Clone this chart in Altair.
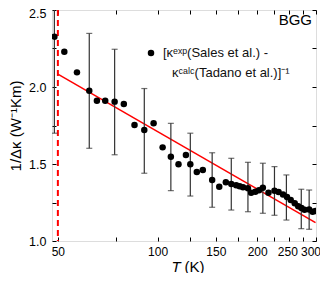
import altair as alt
import pandas as pd

# ---- data ----
T_vals = [48.8, 52.3, 57.1, 62.2, 65.6, 69.5, 74.2, 79.1, 85.2, 91.2, 97.3, 103.6,
          109.7, 115.7, 121.8, 125.6, 131.4, 137.0, 146.2, 153.6, 160.8, 167.0,
          172.8, 177.0, 181.2, 187.5, 191.7, 197.4, 202.5, 208.0, 216.3, 225.5,
          232.0, 239.3, 246.0, 252.5, 259.6, 266.0, 272.0, 278.0, 287.0, 294.0, 300.0]
y_vals = [2.327, 2.229, 2.095, 1.976, 1.911, 1.911, 1.905, 1.890, 1.753, 1.721, 1.764, 1.608,
          1.547, 1.498, 1.558, 1.498, 1.448, 1.461, 1.396, 1.353, 1.381, 1.370,
          1.362, 1.355, 1.349, 1.342, 1.314, 1.320, 1.330, 1.346, 1.314, 1.327,
          1.318, 1.302, 1.286, 1.266, 1.245, 1.225, 1.215, 1.203, 1.205, 1.190, 1.195]

err_T = [48.8, 62.2, 74.2, 91.2, 109.7, 125.6, 146.2, 167.0, 187.5, 208.0, 225.5, 245.0, 271.7, 287.0]
err_lo = [1.70, 1.602, 1.56, 1.44, 1.327, 1.292, 1.219, 1.201, 1.19, 1.18, 1.167, 1.136, 1.08, 1.076]
err_hi = [2.96, 2.348, 2.245, 1.99, 1.764, 1.70, 1.573, 1.537, 1.511, 1.505, 1.483, 1.429, 1.336, 1.331]

fit_T = [50, 300]
fit_y = [2.084, 1.119]
cutoff_T = [50]

x_ticks_major = [50, 100, 150, 200, 250, 300]
x_ticks_all = [50, 75, 100, 125, 150, 175, 200, 225, 250, 275, 300]
y_ticks_major = [1.0, 1.5, 2.0, 2.5]
y_ticks_all = [1.0, 1.25, 1.5, 1.75, 2.0, 2.25, 2.5]

legend_line1 = "[κᵉˣᵖ(Sales et al.) -"
legend_line2 = "κᶜᵃˡᶜ(Tadano et al.)]⁻¹"
sample_label = "BGG"
x_title_sym = "T"
x_title_unit = "(K)"
y_title = "1/Δκ (W⁻¹Km)"

# ---- chart ----
W, H = 264, 231
FONT = "Liberation Sans"

pts = pd.DataFrame({"T": T_vals, "y": y_vals})
err = pd.DataFrame({"T": err_T, "lo": err_lo, "hi": err_hi})
fit = pd.DataFrame({"T": fit_T, "y": fit_y})
cut = pd.DataFrame({"T": cutoff_T})

xscale = alt.Scale(type="log", domain=[48, 301], nice=False)
yscale = alt.Scale(domain=[1.0, 2.5], nice=False, zero=False)

ax_x_main = alt.Axis(orient="bottom", values=x_ticks_major, format="d", ticks=False, tickSize=0,
                     domain=False, grid=False, labelFont=FONT, labelFontSize=12, labelColor="black",
                     labelPadding=5, labelFlush=False, labelOverlap=False,
                     labelOffset={"condition": [{"test": "datum.value >= 300", "value": -5},
                                                {"test": "datum.value >= 250", "value": -2}],
                                  "value": 0},
                     title=x_title_unit, titleFont=FONT, titleFontSize=15, titleFontWeight="normal",
                     titleColor="black", titleX=132, titleY=30, titleAlign="left",
                     titleBaseline="alphabetic")
ax_x_in_bottom = alt.Axis(orient="top", offset=-H, values=x_ticks_all, labels=False, ticks=True,
                          tickSize=4, tickColor="black", tickWidth=1, domain=False, grid=False,
                          title=x_title_sym, titleFont=FONT, titleFontSize=15, titleFontStyle="italic",
                          titleFontWeight="normal", titleColor="black", titleX=119, titleY=30,
                          titleAlign="left", titleBaseline="alphabetic")
ax_x_in_top = alt.Axis(orient="bottom", offset=-H, values=x_ticks_all, labels=False, ticks=True,
                       tickSize=4, tickColor="black", tickWidth=1, domain=False, grid=False, title="")

ax_y_main = alt.Axis(orient="left", values=y_ticks_major, format=".1f", ticks=False, tickSize=0,
                     domain=False, grid=False, labelFont=FONT, labelFontSize=12.5, labelColor="black",
                     labelPadding=6, labelFlush=False, labelOverlap=False,
                     labelOffset={"condition": {"test": "datum.value >= 2.5", "value": 3}, "value": 0},
                     title=y_title, titleFont=FONT, titleFontSize=15, titleFontWeight="normal",
                     titleColor="black", titleX=-32, titleY=H / 2, titleAngle=270,
                     titleAlign="center", titleBaseline="alphabetic")
ax_y_in_left = alt.Axis(orient="right", offset=-W, values=y_ticks_all, labels=False, ticks=True,
                        tickSize=4, tickColor="black", tickWidth=1, domain=False, grid=False, title="")
ax_y_in_right = alt.Axis(orient="left", offset=-W, values=y_ticks_all, labels=False, ticks=True,
                         tickSize=4, tickColor="black", tickWidth=1, domain=False, grid=False, title="")

cut_layer = alt.Chart(cut).mark_rule(color="#ff0000", strokeDash=[6, 4], strokeWidth=2).encode(
    x=alt.X("T:Q", scale=xscale, axis=None))

fit_layer = alt.Chart(fit).mark_line(color="#ff0000", strokeWidth=1.5).encode(
    x=alt.X("T:Q", scale=xscale, axis=None),
    y=alt.Y("y:Q", scale=yscale, axis=None))

err_layer = alt.Chart(err).mark_rule(color="#333333", strokeWidth=1.2, clip=True).encode(
    x=alt.X("T:Q", scale=xscale, axis=None),
    y=alt.Y("lo:Q", scale=yscale, axis=None),
    y2="hi:Q")

cap_lo = alt.Chart(err).mark_tick(color="#333333", orient="horizontal", size=6, thickness=1.2,
                                  clip=True).encode(
    x=alt.X("T:Q", scale=xscale, axis=None),
    y=alt.Y("lo:Q", scale=yscale, axis=None))
cap_hi = alt.Chart(err).mark_tick(color="#333333", orient="horizontal", size=6, thickness=1.2,
                                  clip=True).encode(
    x=alt.X("T:Q", scale=xscale, axis=None),
    y=alt.Y("hi:Q", scale=yscale, axis=None))

pts_layer = alt.Chart(pts).mark_circle(color="black", size=42, opacity=1, clip=True).encode(
    x=alt.X("T:Q", scale=xscale, axis=ax_x_main),
    y=alt.Y("y:Q", scale=yscale, axis=ax_y_main))

ticks1 = alt.Chart(pts).mark_point(opacity=0).encode(
    x=alt.X("T:Q", scale=xscale, axis=ax_x_in_bottom),
    y=alt.Y("y:Q", scale=yscale, axis=ax_y_in_left))
ticks2 = alt.Chart(pts).mark_point(opacity=0).encode(
    x=alt.X("T:Q", scale=xscale, axis=ax_x_in_top),
    y=alt.Y("y:Q", scale=yscale, axis=ax_y_in_right))

leg_sym = alt.Chart(cut).mark_circle(color="black", size=42, opacity=1).encode(
    x=alt.value(99), y=alt.value(43))
leg_t1 = alt.Chart(cut).mark_text(text=legend_line1, font=FONT, fontSize=13, align="left",
                                   baseline="middle", color="#111111").encode(
    x=alt.value(111), y=alt.value(43))
leg_t2 = alt.Chart(cut).mark_text(text=legend_line2, font=FONT, fontSize=13, align="left",
                                   baseline="middle", color="#111111").encode(
    x=alt.value(120), y=alt.value(63))
bgg = alt.Chart(cut).mark_text(text=sample_label, font=FONT, fontSize=15, align="right",
                                baseline="alphabetic", color="black").encode(
    x=alt.value(W - 4), y=alt.value(15))

chart = alt.layer(
    cut_layer, fit_layer, err_layer, cap_lo, cap_hi, pts_layer, ticks1, ticks2,
    leg_sym, leg_t1, leg_t2, bgg
).resolve_axis(x="independent", y="independent").properties(
    width=W, height=H,
    autosize=alt.AutoSizeParams(type="none"),
    padding={"left": 44, "top": 2, "right": 4, "bottom": 32},
).configure_view(stroke="black", strokeWidth=1.5).configure(background="white")

chart.save("out.html", embed_options={"renderer": "svg", "actions": False})
